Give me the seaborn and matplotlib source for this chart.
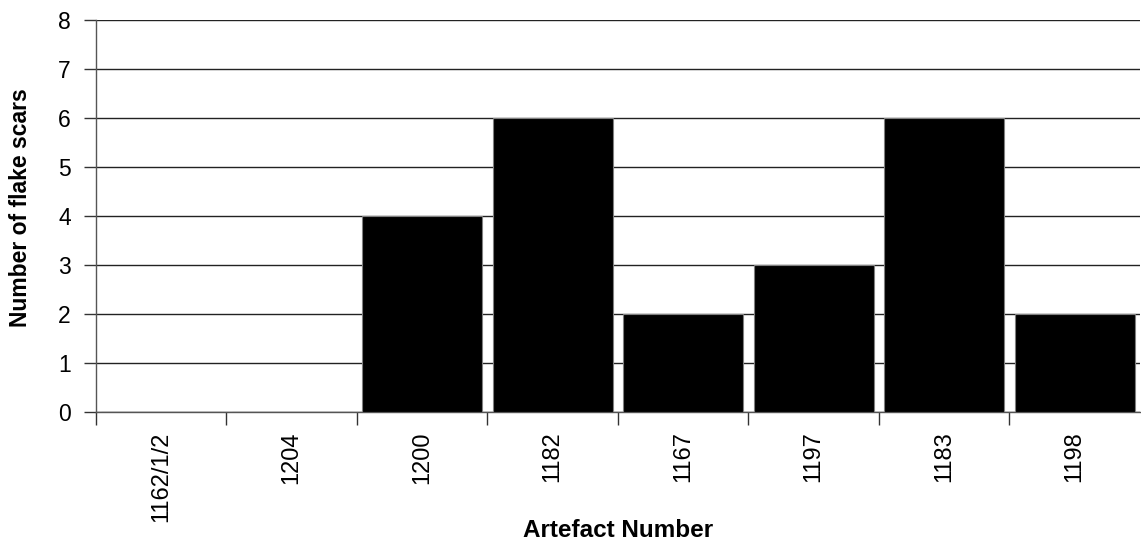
import matplotlib
matplotlib.use("Agg")
import matplotlib.pyplot as plt
import seaborn as sns
import pandas as pd
import numpy as np

categories = ["1162/1/2", "1204", "1200", "1182", "1167", "1197", "1183", "1198"]
values = [0, 0, 4, 6, 2, 3, 6, 2]

sns.set_theme(style="white")
plt.rcParams['font.family'] = ['Liberation Sans', 'DejaVu Sans']

df = pd.DataFrame({"Artefact": categories, "Scars": values})

fig = plt.figure(figsize=(11.41, 5.45), dpi=100)
ax = fig.add_axes([0.0841, 0.2446, 0.9150, 0.7187])

sns.barplot(data=df, x="Artefact", y="Scars", color="black", width=0.92,
            edgecolor="#808080", linewidth=0.8, saturation=1, ax=ax, zorder=3)

ax.set_ylim(0, 8)
ax.set_xlim(-0.5, len(categories) - 0.5)
ax.set_yticks(range(0, 9))
ax.yaxis.grid(True, color="#222222", linewidth=1.0, zorder=0)
ax.set_axisbelow(True)

for s in ["top", "right"]:
    ax.spines[s].set_visible(False)
for s in ["left", "bottom"]:
    ax.spines[s].set_color("#555555")
    ax.spines[s].set_linewidth(1.0)

ax.tick_params(axis="y", which="major", direction="out", length=9, width=1,
               color="#333333", labelsize=16.5, pad=9, left=True,
               labelcolor="black")
ax.set_xticks(np.arange(len(categories)))
ax.set_xticklabels(categories, rotation=90, fontsize=17, color="black")
ax.tick_params(axis="x", which="major", length=0, pad=14)
ax.set_xticks(np.arange(len(categories)) - 0.5, minor=True)
ax.tick_params(axis="x", which="minor", direction="out", length=9, width=1,
               color="#333333", bottom=True)

ax.set_xlabel("Artefact Number", fontsize=17.5, fontweight="bold", color="black")
ax.set_ylabel("Number of flake scars", fontsize=16.5, fontweight="bold", color="black")
ax.xaxis.set_label_coords(0.5, -0.275)
ax.yaxis.set_label_coords(-0.0613, 0.52)

fig.savefig("out.png", dpi=100, facecolor="white")
